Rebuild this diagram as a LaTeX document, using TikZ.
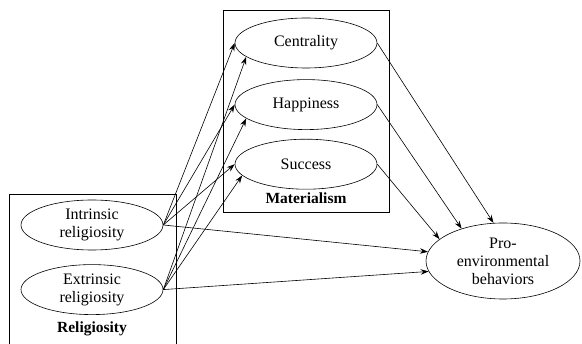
\documentclass[tikz,border=0pt]{standalone}
\usepackage{fontspec}
\setmainfont{Liberation Serif}
\usetikzlibrary{shapes.geometric, positioning, arrows.meta}
\tikzset{
    >={Stealth[length=8pt, width=5.5pt]}, % filled arrow heads
    construct/.style={draw, ellipse, minimum width=142pt, minimum height=50pt, inner sep=0pt, align=center, font=\fontsize{16}{18}\selectfont}, % one latent variable
    groupname/.style={font=\fontsize{15.5}{17}\selectfont\bfseries}, % name under a group of variables
}

\begin{document}
\begin{tikzpicture}[
                    x=1pt, y=-1pt,
                    line width=0.6pt,
                    node distance=11pt,
                    every edge/.append style={->}, % paths between variables are directed
                ]
                \useasboundingbox (0,0) rectangle (582,344);
                % religiosity group
                \draw (9,344) -- (9,194) -- (176,194) -- (176,344);
                \node[construct] (intr) at (92,225) {Intrinsic\\religiosity};
                \node[construct, below=14pt of intr] (extr) {Extrinsic\\religiosity};
                \node[groupname] (relig) at (92,329) {Religiosity};
                % materialism group
                \draw (223,10) rectangle (389,212);
                \node[construct] (cent) at (306,43) {Centrality};
                \node[construct, below=11pt of cent] (happ) {Happiness};
                \node[construct, below=9pt of happ] (succ) {Success};
                \node[groupname] (mat) at (306,198) {Materialism};
                % outcome
                \node[construct, minimum width=154pt, minimum height=76pt] (pro) at (503,261) {Pro-\\environmental\\behaviors};
                \draw
                (intr.east) edge (cent.west)
                (intr.east) edge (happ.west)
                (intr.east) edge (succ.west)
                (extr.east) edge (cent.193)
                (extr.east) edge (happ.193)
                (extr.east) edge (succ.190)
                (intr.east) edge (pro.173)
                (extr.east) edge (pro.188)
                (cent.east) edge (pro.104)
                (happ.east) edge (pro.142)
                (succ.east) edge (pro.161);
            \end{tikzpicture}
\end{document}
